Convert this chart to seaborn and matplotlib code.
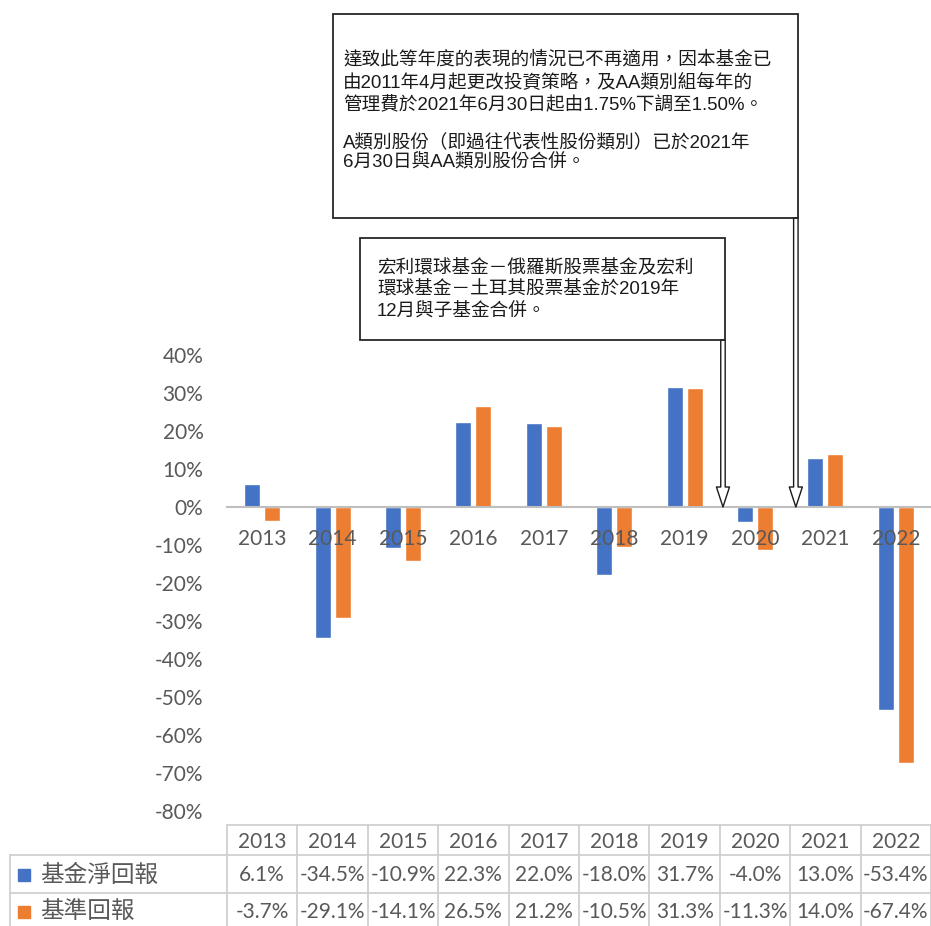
import matplotlib
matplotlib.use("Agg")
import matplotlib.pyplot as plt
import matplotlib.patches as mpatches
from matplotlib.lines import Line2D
from matplotlib.transforms import blended_transform_factory
import pandas as pd
import seaborn as sns

years = ["2013", "2014", "2015", "2016", "2017", "2018", "2019", "2020", "2021", "2022"]
fund_returns = [6.1, -34.5, -10.9, 22.3, 22.0, -18.0, 31.7, -4.0, 13.0, -53.4]
index_returns = [-3.7, -29.1, -14.1, 26.5, 21.2, -10.5, 31.3, -11.3, 14.0, -67.4]
series_names = ["基金淨回報", "基準回報"]
series_colors = ["#4472C4", "#ED7D31"]
y_ticks = list(range(-80, 50, 10))

note_top = [
    "達致此等年度的表現的情況已不再適用，因本基金已",
    "由2011年4月起更改投資策略，及AA類別組每年的",
    "管理費於2021年6月30日起由1.75%下調至1.50%。",
    "A類別股份（即過往代表性股份類別）已於2021年",
    "6月30日與AA類別股份合併。",
]
note_mid = [
    "宏利環球基金－俄羅斯股票基金及宏利",
    "環球基金－土耳其股票基金於2019年",
    "12月與子基金合併。",
]

df = pd.DataFrame({
    "year": years * 2,
    "value": fund_returns + index_returns,
    "series": [series_names[0]] * len(years) + [series_names[1]] * len(years),
})

sns.set_theme(style="white")
plt.rcParams["font.family"] = ["Lato", "Noto Sans CJK TC"]
GREY = "#595959"
W, H = 931, 926


def fx(px):
    return px / W


def fy(px):
    return 1 - px / H


fig = plt.figure(figsize=(W / 100, H / 100), dpi=100)
ax = fig.add_axes([fx(227), fy(811), 704 / W, 456 / H])

sns.barplot(data=df, x="year", y="value", hue="series", palette=series_colors,
            width=0.57, gap=0.2, saturation=1, errorbar=None, legend=False, ax=ax)

ax.set_xlim(-0.5, len(years) - 0.5)
ax.set_ylim(-80, 40)
ax.set_yticks(y_ticks)
ax.set_yticklabels([f"{v}%" for v in y_ticks])
ax.set_xlabel("")
ax.set_ylabel("")
for s in ["top", "right", "left"]:
    ax.spines[s].set_visible(False)
ax.spines["bottom"].set_position(("data", 0))
ax.spines["bottom"].set_color("#BFBFBF")
ax.spines["bottom"].set_linewidth(1.5)
ax.tick_params(axis="y", length=0, pad=17, labelsize=15, labelcolor=GREY)
ax.tick_params(axis="x", length=0, pad=16, labelsize=15, labelcolor=GREY)
# year labels sit on top of the bars, like the original
ax.xaxis.set_zorder(5)

# data table under the chart
tr = blended_transform_factory(ax.transData, fig.transFigure)
line_kw = dict(color="#D0D0D0", lw=1.3)
fig.add_artist(Line2D([fx(227), 1], [fy(825)] * 2, **line_kw))
for py in (855, 893):
    fig.add_artist(Line2D([fx(10), 1], [fy(py)] * 2, **line_kw))
fig.add_artist(Line2D([fx(10)] * 2, [fy(855), 0], **line_kw))
for i in range(len(years) + 1):
    fig.add_artist(Line2D([i - 0.5] * 2, [fy(825), 0], transform=tr, **line_kw))

for i, yr in enumerate(years):
    ax.text(i, fy(842), yr, transform=tr, ha="center", va="center",
            fontsize=15, color=GREY, clip_on=False)
    ax.text(i, fy(875), f"{fund_returns[i]:.1f}%", transform=tr, ha="center",
            va="center", fontsize=15, color=GREY, clip_on=False)
    ax.text(i, fy(912), f"{index_returns[i]:.1f}%", transform=tr, ha="center",
            va="center", fontsize=15, color=GREY, clip_on=False)

for name, col, yc in zip(series_names, series_colors, (875, 912)):
    fig.add_artist(mpatches.Rectangle((fx(18), fy(yc + 6)), 12 / W, 12 / H,
                                      transform=fig.transFigure, color=col))
    fig.text(fx(40), fy(yc), name, ha="left", va="center", fontsize=17, color=GREY)

# annotation boxes
note_font = ["Liberation Sans", "Noto Sans CJK TC"]
fig.add_artist(mpatches.Rectangle((fx(333), fy(218)), (798 - 333) / W, (218 - 14) / H,
                                  transform=fig.transFigure, fill=False,
                                  ec="#262626", lw=1.3))
for line, yc in zip(note_top, (60, 82, 105, 142, 163)):
    fig.text(fx(343), fy(yc), line, ha="left", va="center", fontsize=13.4,
             family=note_font, color="#1a1a1a")

fig.add_artist(mpatches.Rectangle((fx(360), fy(340)), (725 - 360) / W, (340 - 238) / H,
                                  transform=fig.transFigure, fill=False,
                                  ec="#262626", lw=1.3))
for line, yc in zip(note_mid, (268, 290, 312)):
    fig.text(fx(377), fy(yc), line, ha="left", va="center", fontsize=13.4,
             family=note_font, color="#1a1a1a")

arrow_kw = dict(arrowstyle="simple,head_length=14.4,head_width=9.4,tail_width=3.2",
                mutation_scale=1, fc="white", ec="#1a1a1a", lw=1, shrinkA=0, shrinkB=0)
ax.annotate("", xy=(6.545, 0), xytext=(6.545, H - 340), textcoords=("data", "figure pixels"),
            arrowprops=arrow_kw, annotation_clip=False)
ax.annotate("", xy=(7.58, 0), xytext=(7.58, H - 218), textcoords=("data", "figure pixels"),
            arrowprops=arrow_kw, annotation_clip=False)

fig.savefig("out.png", dpi=100)
